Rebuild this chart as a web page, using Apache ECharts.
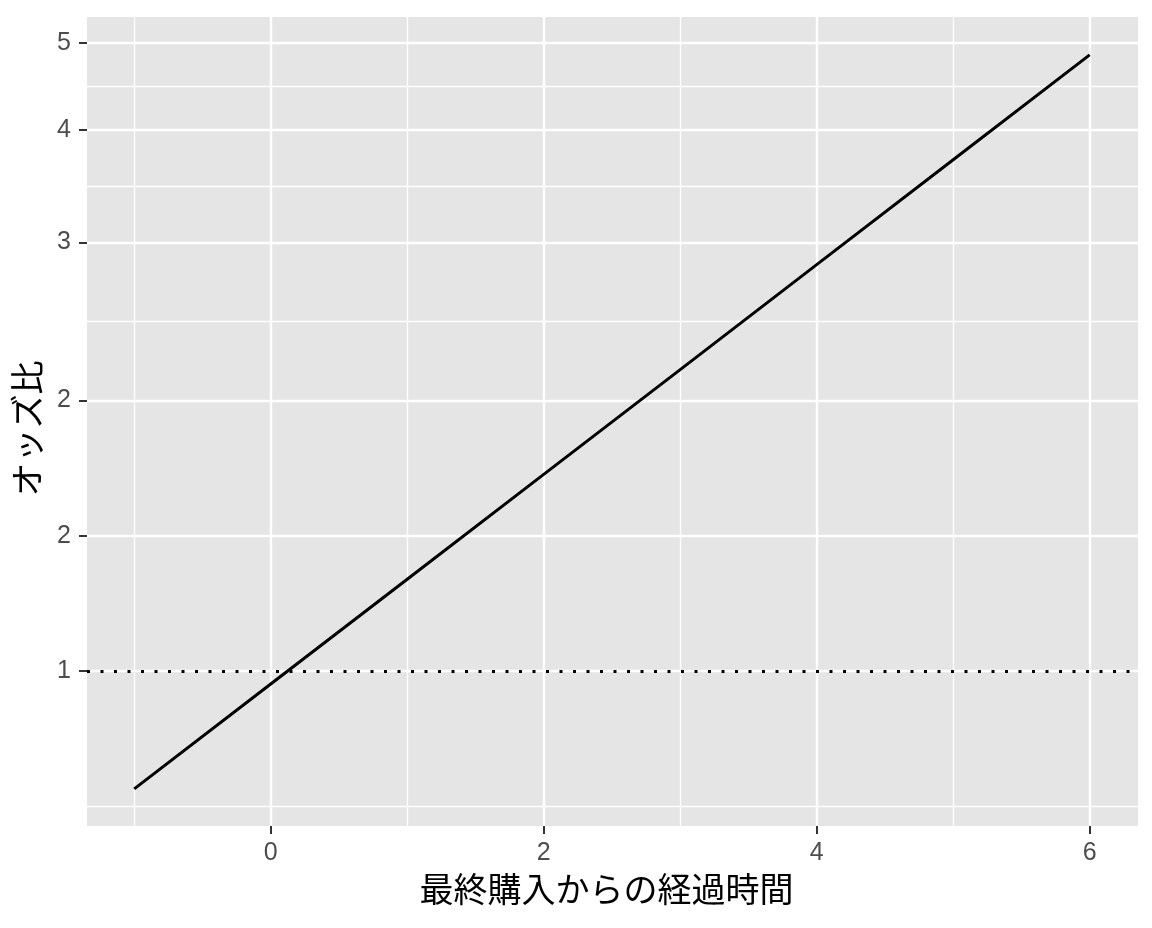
<!DOCTYPE html>
<html>
<head>
<meta charset="utf-8">
<script src="https://cdn.jsdelivr.net/npm/echarts@6/dist/echarts.min.js"></script>
<style>
  html, body { margin: 0; padding: 0; background: #ffffff; }
  #main { width: 1152px; height: 928px; }
</style>
</head>
<body>
<div id="main"></div>
<script>
// 経過時間 (x) と オッズ比 (y) の読み取り値
var elapsed = [-1, 0, 1, 2, 3, 4, 5, 6];
var oddsRatio = [0.739, 0.967, 1.265, 1.655, 2.165, 2.833, 3.707, 4.85];

// 目盛り
var xTicks = [0, 2, 4, 6];
var xMinorTicks = [-1, 1, 3, 5];
var yTicks = [1, 1.4142, 2, 3, 4, 5];
var yTickLabels = ['1', '2', '2', '3', '4', '5'];
var yMinorTicks = [0.7071, 2.4495, 3.4641, 4.4721];
var refLine = 1;

var xMin = -1.346, xMax = 6.354;
var yMin = 0.672, yMax = 5.345;

var myChart = echarts.init(document.getElementById('main'));

var points = [];
for (var i = 0; i < elapsed.length; i++) {
    points.push([elapsed[i], oddsRatio[i]]);
}

function yLabel(val) {
    var best = 0, d = Infinity;
    for (var i = 0; i < yTicks.length; i++) {
        var dd = Math.abs(yTicks[i] - val);
        if (dd < d) { d = dd; best = i; }
    }
    return yTickLabels[best];
}

var option = {
    backgroundColor: '#ffffff',
    animation: false,
    grid: {
        left: 87,
        right: 14,
        top: 17,
        bottom: 102,
        containLabel: false,
        outerBoundsMode: 'none',
        show: true,
        backgroundColor: '#e5e5e5',
        borderWidth: 0
    },
    xAxis: [
        {
            type: 'value',
            min: xMin,
            max: xMax,
            name: '最終購入からの経過時間',
            nameLocation: 'middle',
            nameGap: 46,
            nameMoveOverlap: false,
            nameTextStyle: { fontSize: 34, color: '#000', fontFamily: 'Noto Sans CJK JP', padding: [0, 12, 0, 0] },
            axisLine: { show: false, onZero: false },
            axisTick: { show: true, customValues: xTicks, length: 8, lineStyle: { color: '#333', width: 2 } },
            axisLabel: { customValues: xTicks, fontSize: 25, color: '#4d4d4d', margin: 15, fontFamily: 'Liberation Sans' },
            splitLine: { show: true, lineStyle: { color: '#ffffff', width: 2.4 } }
        },
        {
            type: 'value',
            min: xMin,
            max: xMax,
            axisLine: { show: false, onZero: false },
            axisTick: { show: false, customValues: xMinorTicks },
            axisLabel: { show: false, customValues: xMinorTicks },
            splitLine: { show: true, lineStyle: { color: '#ffffff', width: 1.3 } }
        }
    ],
    yAxis: [
        {
            type: 'log',
            logBase: Math.E,
            min: yMin,
            max: yMax,
            name: 'オッズ比',
            nameLocation: 'middle',
            nameRotate: 90,
            nameGap: 43,
            nameMoveOverlap: false,
            nameTextStyle: { fontSize: 34, color: '#000', fontFamily: 'Noto Sans CJK JP', padding: [0, 14, 0, 0] },
            axisLine: { show: false, onZero: false },
            axisTick: { show: true, customValues: yTicks, length: 8, lineStyle: { color: '#333', width: 2 } },
            axisLabel: {
                customValues: yTicks,
                fontSize: 25,
                color: '#4d4d4d',
                margin: 16,
                fontFamily: 'Liberation Sans',
                formatter: yLabel
            },
            splitLine: { show: true, lineStyle: { color: '#ffffff', width: 2.4 } }
        },
        {
            type: 'log',
            logBase: Math.E,
            min: yMin,
            max: yMax,
            axisLine: { show: false, onZero: false },
            axisTick: { show: false, customValues: yMinorTicks },
            axisLabel: { show: false, customValues: yMinorTicks },
            splitLine: { show: true, lineStyle: { color: '#ffffff', width: 1.3 } }
        }
    ],
    series: [
        {
            type: 'line',
            xAxisIndex: 0,
            yAxisIndex: 0,
            data: points,
            showSymbol: false,
            symbol: 'none',
            lineStyle: { color: '#000', width: 3 },
            markLine: {
                silent: true,
                symbol: ['none', 'none'],
                label: { show: false },
                lineStyle: { color: '#000', width: 3, type: [3, 10.5] },
                data: [{ yAxis: refLine }]
            }
        }
    ]
};

myChart.setOption(option);
</script>
</body>
</html>
